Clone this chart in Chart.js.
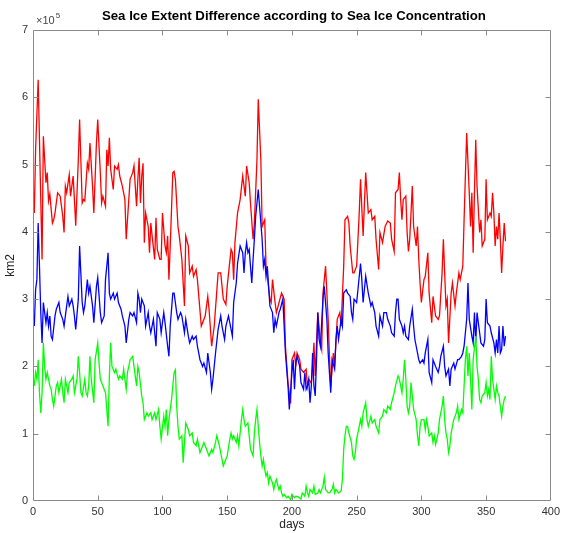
<!DOCTYPE html>
<html><head><meta charset="utf-8">
<script src="https://cdn.jsdelivr.net/npm/chart.js@4"></script>
<style>html,body{margin:0;padding:0;background:#fff;}canvas{display:block;}</style>
</head><body>
<canvas id="c" width="564" height="533" style="width:564px;height:533px"></canvas>
<script>
// values in units of 1e5 km2, x = day of year
const xTickValues = [0, 50, 100, 150, 200, 250, 300, 350, 400];
const yTickValues = [0, 1, 2, 3, 4, 5, 6, 7];
const titleText = 'Sea Ice Extent Difference according to Sea Ice Concentration';

const redPoints = [[1,4.28],[2,5.22],[4,6.26],[7,3.59],[8,5.42],[10,4.73],[11,4.88],[12,4.46],[13,4.56],[15,4.13],[16,4.18],[17,4.28],[19,4.58],[21,4.53],[23,4.23],[24,3.99],[25,4.68],[26,4.58],[28,4.85],[29,4.53],[30,4.68],[31,4.83],[32,4.48],[33,4.09],[35,5.07],[36,5.67],[38,4.43],[39,4.48],[40,4.46],[42,5.02],[43,4.93],[44,5.32],[46,4.68],[47,4.28],[49,5.32],[50,5.67],[52,4.88],[53,4.43],[54,4.53],[56,4.38],[57,5.22],[58,4.98],[59,5.40],[60,4.93],[62,4.63],[63,4.98],[65,4.93],[66,5.00],[67,4.83],[69,4.68],[71,4.48],[72,3.89],[74,4.48],[75,4.78],[77,4.88],[78,4.98],[80,4.38],[81,4.78],[82,5.10],[83,4.43],[84,4.83],[85,5.02],[86,3.84],[87,4.28],[89,4.08],[90,3.69],[91,4.13],[92,3.94],[94,3.59],[95,4.21],[96,3.74],[98,3.59],[99,3.59],[100,4.28],[102,3.79],[103,3.69],[104,3.94],[105,3.29],[106,3.79],[108,4.88],[109,4.90],[110,4.78],[112,4.08],[113,3.94],[115,3.59],[117,2.90],[118,3.94],[120,3.79],[121,3.39],[123,3.49],[124,3.34],[126,3.44],[127,3.29],[130,2.60],[133,2.75],[135,3.04],[136,2.85],[138,2.30],[140,2.60],[143,3.39],[145,3.39],[147,3.00],[149,2.92],[150,3.19],[153,3.74],[154,3.69],[155,3.29],[156,3.84],[158,4.28],[160,4.48],[162,4.83],[164,4.53],[165,4.98],[167,4.73],[168,4.43],[170,3.89],[171,4.13],[173,5.07],[174,5.97],[176,5.07],[177,4.08],[179,4.18],[180,3.49],[181,3.34],[183,3.00],[184,2.95],[185,3.29],[187,2.95],[188,2.80],[192,3.09],[194,3.00],[195,2.30],[197,1.75],[199,1.45],[200,2.10],[202,2.20],[203,2.00],[204,2.20],[206,2.10],[207,1.96],[209,1.91],[211,1.96],[212,1.70],[213,1.81],[215,1.75],[216,2.00],[217,2.35],[218,1.86],[220,2.80],[222,2.35],[223,2.25],[224,3.09],[226,3.49],[228,2.70],[229,2.15],[230,1.70],[232,2.20],[233,2.00],[235,2.70],[237,2.80],[238,2.60],[240,3.49],[241,4.18],[243,4.23],[244,4.13],[245,3.79],[247,3.39],[248,3.39],[250,3.49],[252,4.28],[253,4.78],[255,3.94],[257,4.88],[259,4.28],[261,4.33],[262,4.18],[264,4.23],[265,3.89],[267,3.44],[268,3.99],[270,3.84],[272,4.08],[274,4.16],[276,4.13],[277,3.89],[279,3.71],[280,4.58],[282,4.63],[283,4.88],[284,4.48],[285,4.18],[286,4.48],[288,4.53],[289,3.99],[290,3.71],[291,3.89],[293,4.68],[294,4.08],[296,3.79],[297,4.08],[298,3.59],[299,3.24],[300,2.95],[302,3.29],[303,3.34],[305,3.69],[306,3.09],[308,2.65],[309,3.04],[311,2.75],[313,2.70],[314,2.75],[316,3.39],[317,3.89],[318,3.39],[319,2.90],[320,3.00],[321,2.35],[323,3.09],[324,3.24],[326,2.90],[327,3.09],[329,3.39],[330,3.29],[332,3.49],[333,4.18],[334,4.83],[335,5.47],[337,4.58],[338,4.08],[339,4.58],[340,3.69],[341,4.58],[342,5.37],[343,4.68],[345,3.99],[346,4.18],[347,3.79],[349,3.89],[350,4.78],[351,4.18],[353,4.28],[354,4.23],[355,4.58],[356,4.28],[357,3.79],[358,4.08],[359,3.89],[360,4.28],[361,3.89],[362,3.39],[363,3.79],[364,4.13],[365,3.86]];

const bluePoints = [[1,2.60],[2,3.14],[3,3.29],[4,4.13],[5,3.49],[6,2.80],[7,2.35],[8,2.95],[9,2.80],[10,2.65],[11,2.80],[12,2.60],[13,2.75],[14,2.45],[15,2.40],[17,2.75],[18,2.85],[20,2.95],[21,2.80],[23,2.70],[24,2.60],[26,2.90],[27,3.04],[28,2.90],[30,3.00],[31,2.90],[32,2.75],[33,2.55],[35,3.00],[36,3.79],[38,2.95],[39,2.80],[40,2.90],[42,3.29],[43,3.09],[44,3.19],[46,2.90],[47,2.65],[49,3.19],[50,3.32],[52,2.80],[53,2.65],[55,2.75],[56,3.29],[58,3.69],[59,3.09],[60,3.00],[62,3.09],[63,3.00],[65,3.09],[66,2.95],[68,2.85],[69,2.75],[71,2.60],[72,2.35],[74,2.70],[75,2.80],[77,2.75],[78,2.80],[80,2.65],[81,3.09],[82,3.00],[83,2.80],[84,3.00],[86,2.90],[87,2.60],[89,2.80],[90,2.60],[91,2.50],[93,2.70],[95,2.30],[96,2.80],[98,2.70],[99,2.50],[101,2.80],[102,2.65],[104,2.30],[105,2.15],[106,2.60],[108,3.09],[109,3.09],[111,2.80],[112,2.70],[114,2.80],[115,2.75],[117,2.50],[118,2.70],[120,2.45],[121,2.35],[123,2.45],[124,2.40],[126,2.45],[127,2.30],[129,2.10],[131,2.00],[132,2.05],[134,1.91],[135,2.20],[137,1.91],[138,1.66],[139,1.81],[141,2.20],[143,2.55],[145,2.75],[146,2.60],[148,2.40],[149,2.60],[151,2.75],[152,2.65],[154,2.45],[155,2.95],[157,3.24],[158,3.53],[160,3.79],[162,3.69],[163,3.39],[164,3.69],[165,3.84],[166,3.69],[167,3.74],[168,3.49],[169,3.24],[170,3.59],[171,3.89],[172,4.23],[174,4.63],[175,4.38],[177,3.89],[178,3.49],[179,3.59],[180,3.34],[181,3.49],[182,3.19],[183,2.90],[185,2.80],[186,2.50],[187,2.70],[188,2.60],[190,2.80],[191,2.85],[193,3.00],[194,2.60],[195,2.20],[197,1.71],[198,1.36],[200,1.91],[201,2.10],[202,1.66],[203,2.05],[204,2.15],[206,2.00],[207,1.76],[209,1.66],[210,1.91],[211,1.66],[212,1.71],[213,1.81],[214,1.46],[215,1.71],[216,2.20],[217,1.71],[218,1.56],[219,2.10],[220,2.80],[221,2.40],[222,2.30],[224,3.00],[225,3.19],[227,2.70],[228,2.20],[230,1.61],[231,2.10],[233,1.96],[234,2.40],[235,2.60],[236,2.40],[238,2.70],[239,2.60],[240,3.09],[242,3.14],[243,3.09],[245,3.04],[246,2.80],[247,2.70],[248,3.00],[250,2.95],[251,3.14],[253,3.53],[254,3.29],[255,2.95],[257,3.34],[259,3.09],[261,2.90],[262,2.95],[264,2.80],[265,2.60],[267,2.45],[268,2.75],[270,2.60],[271,2.80],[273,2.80],[274,2.70],[276,2.60],[277,2.50],[279,2.45],[280,2.80],[281,3.00],[282,3.00],[283,2.70],[285,2.60],[286,2.50],[287,2.60],[288,2.45],[290,2.40],[291,2.60],[293,2.85],[294,2.60],[295,2.40],[297,2.20],[298,2.10],[299,2.05],[301,2.10],[302,2.05],[303,2.20],[305,2.40],[306,1.91],[308,1.76],[309,2.10],[311,2.00],[313,1.91],[314,2.00],[315,2.15],[317,2.30],[318,2.00],[319,1.86],[321,1.96],[322,1.71],[323,1.96],[325,2.05],[326,1.96],[328,2.10],[329,2.10],[331,2.15],[332,2.20],[333,2.30],[335,2.70],[336,3.24],[337,2.70],[339,2.45],[340,2.35],[341,2.80],[342,2.35],[343,2.80],[345,2.50],[346,2.35],[348,2.30],[349,2.40],[350,3.00],[351,2.65],[353,2.60],[354,2.50],[356,2.35],[357,2.20],[358,2.40],[359,2.20],[360,2.60],[361,2.20],[362,2.25],[363,2.60],[364,2.30],[365,2.45]];

const greenPoints = [[1,1.71],[2,1.91],[3,1.81],[4,2.10],[5,1.61],[6,1.31],[7,1.61],[8,2.35],[9,2.00],[10,1.81],[11,1.91],[12,1.81],[13,1.71],[14,1.66],[15,1.51],[16,1.41],[18,1.71],[19,1.76],[20,1.61],[22,1.81],[23,1.61],[24,1.46],[25,1.81],[27,1.61],[28,1.76],[30,1.81],[31,1.86],[32,1.61],[34,1.81],[35,2.15],[36,1.91],[37,1.61],[38,1.56],[40,1.81],[41,1.61],[42,1.56],[43,1.71],[44,2.15],[45,1.81],[47,1.46],[48,2.10],[50,2.35],[51,2.05],[52,1.81],[54,1.71],[56,1.61],[57,1.36],[58,1.11],[59,1.86],[60,2.35],[61,2.00],[63,1.91],[64,1.96],[66,1.81],[67,1.86],[69,1.81],[70,1.96],[72,1.66],[73,1.91],[75,2.10],[77,2.15],[78,2.00],[80,1.71],[81,2.00],[82,1.91],[84,1.56],[85,1.46],[86,1.21],[88,1.31],[89,1.26],[91,1.31],[92,1.21],[94,1.31],[95,1.21],[97,1.36],[98,1.11],[99,0.92],[101,1.26],[102,1.11],[103,1.36],[104,0.97],[105,1.21],[107,1.51],[108,1.71],[109,1.91],[110,1.95],[111,1.41],[112,1.11],[113,0.92],[115,0.97],[116,0.57],[117,0.87],[118,1.16],[120,1.06],[121,0.97],[123,1.01],[124,0.87],[126,0.82],[127,0.92],[129,0.72],[132,0.87],[133,0.82],[135,0.72],[136,0.67],[138,0.77],[139,0.72],[141,0.87],[142,0.97],[144,0.82],[146,0.62],[147,0.52],[149,0.62],[150,0.67],[152,0.92],[153,1.01],[154,0.92],[155,0.97],[157,0.87],[158,0.97],[159,0.82],[160,1.01],[161,1.21],[162,1.36],[163,1.21],[164,1.11],[166,1.16],[167,0.97],[168,0.77],[170,0.67],[171,1.01],[172,1.21],[173,1.36],[174,1.11],[175,0.87],[176,0.67],[177,0.52],[178,0.62],[179,0.47],[180,0.37],[181,0.42],[182,0.27],[183,0.37],[185,0.27],[186,0.17],[187,0.27],[188,0.32],[190,0.17],[191,0.22],[192,0.12],[193,0.07],[194,0.10],[196,0.05],[197,0.07],[199,0.02],[200,0.10],[202,0.05],[203,0.07],[205,0.06],[207,0.03],[208,0.12],[210,0.07],[211,0.22],[212,0.12],[213,0.07],[214,0.17],[216,0.12],[217,0.22],[218,0.10],[220,0.12],[221,0.17],[222,0.12],[224,0.22],[225,0.35],[226,0.17],[228,0.12],[229,0.12],[231,0.17],[232,0.25],[233,0.12],[234,0.17],[235,0.15],[236,0.12],[238,0.15],[239,0.32],[240,0.77],[241,0.97],[242,1.11],[243,1.11],[244,1.01],[246,0.87],[247,0.67],[248,0.62],[249,0.72],[250,0.92],[252,1.11],[253,1.21],[254,1.11],[255,1.31],[257,1.46],[258,1.21],[259,1.11],[261,1.26],[262,1.16],[264,1.21],[265,1.11],[267,1.01],[268,1.21],[270,1.26],[271,1.36],[273,1.31],[274,1.41],[276,1.36],[277,1.46],[279,1.61],[280,1.71],[282,1.86],[283,1.81],[285,1.61],[286,1.81],[287,2.10],[288,1.81],[289,1.41],[290,1.31],[291,1.41],[292,1.76],[293,1.56],[294,1.36],[296,1.21],[297,0.97],[298,0.82],[299,1.11],[300,1.21],[302,1.21],[303,1.06],[304,1.21],[305,1.11],[306,0.97],[308,1.01],[309,0.87],[310,0.97],[311,0.84],[313,1.01],[314,1.21],[316,1.41],[317,1.56],[318,1.21],[319,1.01],[320,0.92],[321,0.72],[322,0.82],[323,1.01],[324,1.11],[325,1.21],[327,1.31],[328,1.41],[329,1.21],[331,1.36],[332,1.31],[333,1.71],[334,2.10],[335,2.30],[336,1.86],[337,2.20],[338,1.81],[339,1.36],[340,2.10],[342,2.45],[343,2.00],[344,1.81],[345,1.51],[346,1.46],[347,1.56],[349,1.61],[350,1.76],[351,1.56],[352,1.66],[353,1.51],[354,2.15],[355,1.81],[356,1.66],[357,1.51],[358,1.71],[359,1.61],[360,1.56],[361,1.41],[362,1.26],[363,1.41],[364,1.51],[365,1.56]];

const FONT = '"Liberation Sans", Arial, Helvetica, sans-serif';
const toXY = pts => pts.map(p => ({x: p[0], y: p[1]}));

const matlabAxes = {
  id: 'matlabAxes',
  afterDatasetsDraw(chart) {
    const {ctx, chartArea: a, scales: {x, y}} = chart;
    ctx.save();
    ctx.strokeStyle = '#8a8a8a';
    ctx.lineWidth = 1;
    ctx.beginPath();
    const L = Math.round(a.left) + 0.5, R = Math.round(a.right) - 0.5;
    const T = Math.round(a.top) + 0.5, B = Math.round(a.bottom) - 0.5;
    ctx.rect(L, T, R - L, B - T);
    const tl = 5;
    xTickValues.forEach(v => {
      if (v === 0 || v === 400) return;
      const px = Math.round(x.getPixelForValue(v)) + 0.5;
      ctx.moveTo(px, B); ctx.lineTo(px, B - tl);
      ctx.moveTo(px, T); ctx.lineTo(px, T + tl);
    });
    yTickValues.forEach(v => {
      if (v === 0 || v === 7) return;
      const py = Math.round(y.getPixelForValue(v)) + 0.5;
      ctx.moveTo(L, py); ctx.lineTo(L + tl, py);
      ctx.moveTo(R, py); ctx.lineTo(R - tl, py);
    });
    ctx.stroke();
    ctx.restore();
  },
  afterDraw(chart) {
    const {ctx, chartArea: a} = chart;
    ctx.save();
    // title
    ctx.fillStyle = '#000';
    ctx.font = 'bold 12px ' + FONT;
    ctx.textAlign = 'center';
    ctx.textBaseline = 'middle';
    const cx = (a.left + a.right) / 2 + 2;
    const w = ctx.measureText(titleText).width;
    const target = 384;
    ctx.translate(cx, 17);
    ctx.scale(target / w, 1);
    ctx.fillText(titleText, 0, 0);
    ctx.restore();
    // exponent label
    ctx.save();
    ctx.fillStyle = '#444';
    ctx.textAlign = 'left';
    ctx.textBaseline = 'alphabetic';
    ctx.font = '11px ' + FONT;
    ctx.fillText('\u00d710', 36, 24);
    const ew = ctx.measureText('\u00d710').width;
    ctx.font = '8px ' + FONT;
    ctx.fillText('5', 36 + ew + 1, 18);
    ctx.restore();
  }
};

new Chart(document.getElementById('c'), {
  type: 'line',
  data: {
    datasets: [
      {data: toXY(greenPoints), borderColor: '#00ff00'},
      {data: toXY(bluePoints), borderColor: '#0000ff'},
      {data: toXY(redPoints), borderColor: '#ff0000'}
    ]
  },
  options: {
    responsive: false,
    animation: false,
    devicePixelRatio: 1,
    parsing: true,
    elements: {
      line: {borderWidth: 1.3, tension: 0, fill: false},
      point: {radius: 0, hoverRadius: 0}
    },
    layout: {padding: {top: 30, right: 11, left: 0, bottom: 0}},
    plugins: {legend: {display: false}, tooltip: {enabled: false}, title: {display: false}},
    scales: {
      x: {
        type: 'linear', min: 0, max: 400,
        afterBuildTicks: s => { s.ticks = xTickValues.map(v => ({value: v})); },
        ticks: {font: {family: FONT, size: 11}, color: '#333', padding: 4, maxRotation: 0, autoSkip: false},
        grid: {display: false, drawTicks: false},
        border: {display: false},
        title: {display: true, text: 'days', color: '#222', font: {family: FONT, size: 12}, padding: {top: 0, bottom: 1}},
        afterFit: s => { s.height = 32; }
      },
      y: {
        type: 'linear', min: 0, max: 7,
        afterBuildTicks: s => { s.ticks = yTickValues.map(v => ({value: v})); },
        ticks: {font: {family: FONT, size: 11}, color: '#333', padding: 5, autoSkip: false},
        grid: {display: false, drawTicks: false},
        border: {display: false},
        title: {display: true, text: 'km2', color: '#222', font: {family: FONT, size: 12}, padding: {top: 3, bottom: 0}},
        afterFit: s => { s.width = 33; }
      }
    }
  },
  plugins: [matlabAxes]
});
</script>
</body></html>
